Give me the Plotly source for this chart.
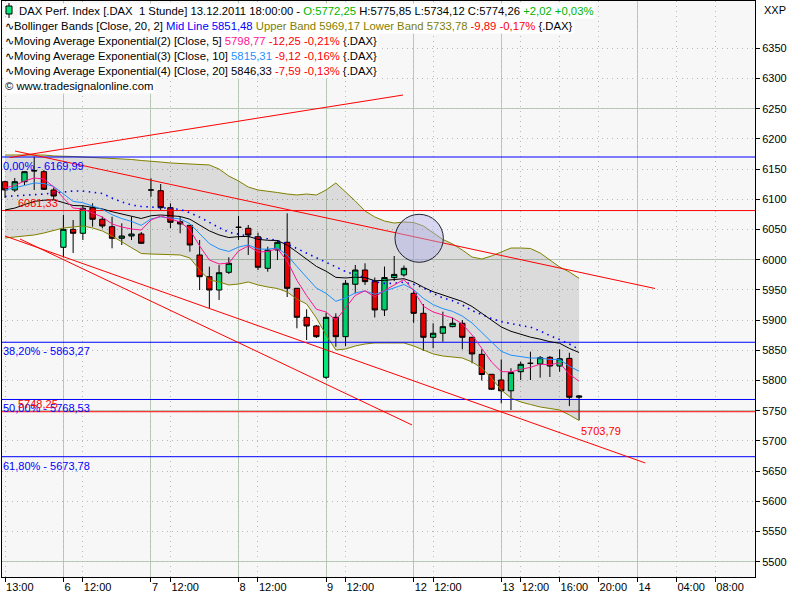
import plotly.graph_objects as go

# ---------------- data ----------------
bar_index = list(range(60))
open_ = [6129.1, 6115.4, 6129.1, 6147.5, 6145.7, 6115.4, 6020.5, 6050.3, 6043.7, 6086.1,
         6066.9, 6054.6, 6035.4, 6039.2, 6042.5, 6115.4, 6114.2, 6086.1, 6062.9, 6056.9,
         6007.8, 5971.8, 5949.8, 5979.1, 6053.6, 6052.0, 6038.0, 5985.7, 6016.0, 6028.8,
         5952.6, 5904.6, 5890.2, 5805.3, 5904.6, 5872.5, 5959.3, 5982.9, 5963.6, 5916.8,
         5970.4, 5974.8, 5944.3, 5911.2, 5871.5, 5878.2, 5889.1, 5894.7, 5871.5, 5843.3,
         5810.2, 5800.8, 5782.9, 5814.5, 5828.4, 5827.3, 5838.3, 5823.9, 5836.6, 5772.25]
high = [6130.8, 6135.2, 6146.8, 6170.5, 6148.5, 6119.2, 6074.0, 6065.7, 6090.5, 6093.3,
        6071.2, 6071.2, 6060.2, 6071.2, 6045.8, 6134.7, 6125.3, 6093.3, 6071.2, 6057.4,
        6032.6, 5988.4, 5991.2, 6003.9, 6072.3, 6057.4, 6044.7, 6021.5, 6032.6, 6076.8,
        5953.1, 5917.8, 5891.9, 5912.2, 5911.2, 5966.4, 5991.2, 5994.0, 5970.5, 5988.6,
        6006.1, 5990.4, 5951.1, 5926.6, 5894.7, 5913.9, 5904.1, 5900.1, 5872.0, 5851.7,
        5810.7, 5834.7, 5820.3, 5831.1, 5847.7, 5840.5, 5840.5, 5851.7, 5845.9, 5775.85]
low = [6102.1, 6112.1, 6123.6, 6115.4, 6115.4, 6098.8, 6003.9, 6011.1, 6032.6, 6054.6,
       6052.0, 6018.8, 6024.3, 6032.6, 6025.9, 6104.3, 6082.3, 6052.0, 6043.7, 6013.2,
       5949.8, 5919.5, 5933.2, 5976.3, 6032.6, 6007.8, 5982.9, 5980.1, 5999.5, 5938.2,
       5886.4, 5867.0, 5870.3, 5802.5, 5855.9, 5857.1, 5944.3, 5958.1, 5904.3, 5906.8,
       5964.7, 5971.8, 5895.6, 5849.3, 5853.4, 5864.2, 5888.1, 5851.7, 5828.4, 5800.0,
       5784.2, 5762.2, 5751.1, 5800.8, 5800.8, 5804.7, 5805.7, 5814.5, 5757.6, 5734.12]
close = [6115.4, 6129.1, 6145.7, 6147.0, 6116.5, 6105.4, 6050.3, 6043.7, 6085.1, 6066.9,
         6055.8, 6035.4, 6039.2, 6042.5, 6027.1, 6115.4, 6086.1, 6061.9, 6059.1, 6024.3,
         5971.8, 5949.8, 5978.4, 5994.0, 6053.6, 6040.9, 5987.4, 6016.0, 6028.8, 5952.6,
         5904.6, 5890.2, 5872.5, 5904.6, 5872.5, 5960.9, 5982.9, 5963.6, 5916.8, 5970.4,
         5975.6, 5985.7, 5911.2, 5871.5, 5878.2, 5889.1, 5894.7, 5871.5, 5843.9, 5809.9,
         5785.4, 5782.9, 5813.2, 5826.8, 5828.4, 5837.7, 5823.9, 5836.0, 5772.24, 5774.26]

ema5 = [6118.7, 6122.8, 6130.3, 6135.2, 6133.6, 6120.3, 6102.1, 6085.6, 6083.9, 6077.3,
        6070.7, 6059.1, 6054.1, 6050.8, 6049.1, 6065.7, 6072.3, 6067.4, 6062.4, 6049.6,
        6022.7, 5999.5, 5992.9, 5994.5, 6014.4, 6022.7, 6012.7, 6013.6, 6018.2, 5997.8,
        5965.7, 5940.5, 5917.9, 5913.4, 5899.8, 5920.2, 5941.0, 5948.5, 5938.1, 5949.0,
        5957.9, 5967.2, 5948.5, 5922.8, 5913.4, 5908.4, 5903.5, 5893.5, 5875.3, 5853.1,
        5830.6, 5814.7, 5814.2, 5818.4, 5821.7, 5827.0, 5826.0, 5829.3, 5810.2, 5798.77]
ema10 = [6115.4, 6118.7, 6122.8, 6127.0, 6126.1, 6121.2, 6108.3, 6096.5, 6094.3, 6089.4,
         6083.3, 6074.5, 6068.0, 6063.4, 6056.8, 6067.4, 6070.8, 6069.2, 6067.4, 6059.6,
         6043.7, 6026.6, 6017.9, 6013.6, 6020.8, 6024.5, 6017.7, 6017.4, 6019.5, 6007.4,
         5988.7, 5970.8, 5953.0, 5944.2, 5931.1, 5936.6, 5945.0, 5948.3, 5942.7, 5947.8,
         5953.0, 5958.9, 5950.3, 5935.9, 5925.5, 5918.9, 5914.4, 5906.6, 5895.2, 5879.6,
         5862.6, 5848.2, 5841.9, 5839.1, 5837.1, 5837.2, 5834.7, 5834.9, 5823.5, 5815.31]
ema20 = [6082.3, 6085.4, 6091.2, 6096.5, 6098.5, 6099.1, 6094.5, 6089.7, 6089.2, 6087.1,
         6084.1, 6079.4, 6075.6, 6072.5, 6068.2, 6072.7, 6074.0, 6072.8, 6071.5, 6067.0,
         6057.9, 6047.7, 6041.0, 6036.6, 6038.2, 6038.6, 6033.7, 6032.1, 6031.8, 6024.1,
         6012.7, 6001.1, 5988.9, 5980.9, 5970.7, 5969.7, 5971.0, 5970.3, 5965.2, 5965.7,
         5966.7, 5968.5, 5963.1, 5954.3, 5947.0, 5941.5, 5937.1, 5930.8, 5922.5, 5911.7,
         5899.6, 5888.6, 5881.4, 5876.3, 5871.7, 5868.4, 5864.2, 5861.6, 5853.1, 5846.33]
bb_mid = [6104.6, 6105.4, 6106.3, 6107.1, 6108.7, 6110.4, 6112.1, 6113.7, 6113.7, 6112.1,
          6109.6, 6102.1, 6095.5, 6090.5, 6088.1, 6087.2, 6086.4, 6085.1, 6083.1, 6077.6,
          6070.5, 6061.4, 6053.1, 6045.5, 6042.4, 6039.0, 6035.9, 6034.6, 6031.8, 6026.0,
          6018.5, 6011.2, 6002.8, 5996.0, 5988.2, 5980.4, 5975.3, 5970.5, 5963.4, 5960.7,
          5960.9, 5962.7, 5959.2, 5953.1, 5944.3, 5936.7, 5932.1, 5925.0, 5915.7, 5908.6,
          5902.6, 5897.2, 5894.3, 5890.4, 5888.2, 5882.1, 5874.2, 5867.7, 5860.4, 5851.48]
bb_upper = [6173.3, 6173.3, 6173.3, 6173.3, 6173.3, 6171.7, 6171.7, 6170.8, 6170.0, 6169.2,
            6169.2, 6168.3, 6167.5, 6165.9, 6164.2, 6163.4, 6161.7, 6160.1, 6159.2, 6158.4,
            6158.4, 6156.8, 6150.1, 6138.5, 6130.3, 6120.3, 6115.4, 6113.7, 6111.2, 6108.7,
            6107.1, 6108.7, 6107.1, 6115.4, 6127.0, 6112.1, 6097.2, 6080.6, 6070.7, 6064.0,
            6060.7, 6062.4, 6061.4, 6055.8, 6044.8, 6033.4, 6026.0, 6016.0, 6004.4, 6001.1,
            6006.1, 6012.7, 6019.3, 6019.3, 6018.5, 6011.1, 5999.5, 5987.9, 5979.6, 5969.17]
bb_lower = [6035.9, 6037.6, 6039.2, 6040.9, 6044.2, 6048.3, 6052.5, 6054.1, 6055.8, 6052.5,
            6047.5, 6039.2, 6029.3, 6019.3, 6010.2, 6009.4, 6008.6, 6007.8, 6007.8, 6002.8,
            5982.9, 5966.4, 5963.1, 5958.1, 5959.7, 5963.1, 5958.1, 5954.8, 5952.3, 5946.5,
            5934.9, 5926.6, 5903.5, 5875.3, 5850.5, 5852.1, 5857.1, 5860.4, 5862.1, 5862.1,
            5862.1, 5862.1, 5857.1, 5850.5, 5843.9, 5840.5, 5838.9, 5837.2, 5830.6, 5820.7,
            5804.1, 5784.2, 5771.0, 5764.4, 5760.2, 5756.1, 5753.6, 5751.1, 5742.9, 5733.78]

fib_levels = [6169.99, 5863.27, 5768.53, 5673.78]
fib_labels = ["0,00% - 6169,99", "38,20% - 5863,27", "50,00% - 5768,53", "61,80% - 5673,78"]
red_levels = [6081.33, 5748.25]
red_labels = ["6081,33", "5748,25"]

trend_lines = {
    "upper_short": ([0.51, 40.9], [6169.2, 6272.6]),
    "channel_top": ([1.03, 66.8], [6179.9, 5952.3]),
    "channel_low": ([0.0, 65.8], [6039.2, 5663.4]),
    "steep_low": ([1.54, 41.83], [6034.2, 5726.3]),
}
trend_label = "5703,79"
trend_label_value = 5703.79
trend_label_bar = 59

circle_x = [40.08, 45.05]
circle_y = [5995.7, 6075.1]

tick_index = [0, 6, 8, 15, 17, 24, 26, 33, 35, 42, 44, 51, 53, 57, 61, 65, 69, 73]
tick_text = ["13:00", "6", "12:00", "7", "12:00", "8", "12:00", "9", "12:00", "12",
             "12:00", "13", "12:00", "16:00", "20:00", "14", "04:00", "08:00"]
day_index = [6, 15, 24, 33, 42, 51, 65]
price_ticks = list(range(5500, 6351, 50))

x_range = [-0.31, 77.08]
y_range = [5474.6, 6428.3]

# ---------------- styling ----------------
FONT = "Liberation Sans"
GREEN = "#00E87A"
RED = "#FF0000"
OLIVE = "#808000"
PINK = "#FF1493"
DBLUE = "#1E90FF"
BLUE = "#0000FF"

W, H = 800, 600
ML, MR, MT, MB = 2, 45, 1, 23
PW, PH = W - ML - MR, H - MT - MB


def px(xp):
    return (xp - ML) / PW


def py(yp):
    return 1 - (yp - MT) / PH


fig = go.Figure()

# Bollinger band fill
fig.add_trace(go.Scatter(x=bar_index, y=bb_upper, mode="lines",
                         line=dict(color=OLIVE, width=1), hoverinfo="skip"))
fig.add_trace(go.Scatter(x=bar_index, y=bb_lower, mode="lines", fill="tonexty",
                         fillcolor="rgba(0,0,0,0.11)",
                         line=dict(color=OLIVE, width=1), hoverinfo="skip"))

# horizontal level lines
for v in fib_levels:
    fig.add_trace(go.Scatter(x=x_range, y=[v, v], mode="lines",
                             line=dict(color=BLUE, width=1), hoverinfo="skip"))
for v in red_levels:
    fig.add_trace(go.Scatter(x=x_range, y=[v, v], mode="lines",
                             line=dict(color=RED, width=1), hoverinfo="skip"))

# trend lines
for name, (tx, ty) in trend_lines.items():
    fig.add_trace(go.Scatter(x=tx, y=ty, mode="lines",
                             line=dict(color=RED, width=1), hoverinfo="skip"))

# indicators
fig.add_trace(go.Scatter(x=bar_index, y=bb_mid, mode="lines",
                         line=dict(color=BLUE, width=1.6, dash="1.5px,4.5px")))
fig.add_trace(go.Scatter(x=bar_index, y=ema20, mode="lines",
                         line=dict(color="black", width=1)))
fig.add_trace(go.Scatter(x=bar_index, y=ema10, mode="lines",
                         line=dict(color=DBLUE, width=1)))
fig.add_trace(go.Scatter(x=bar_index, y=ema5, mode="lines",
                         line=dict(color=PINK, width=1)))

# candles
fig.add_trace(go.Candlestick(
    x=bar_index, open=open_, high=high, low=low, close=close,
    increasing=dict(fillcolor=GREEN, line=dict(color="black", width=1)),
    decreasing=dict(fillcolor=RED, line=dict(color="black", width=1)),
    whiskerwidth=0, hoverinfo="skip"))

# circle drawing
fig.add_shape(type="circle", xref="x", yref="y",
              x0=circle_x[0], x1=circle_x[1], y0=circle_y[0], y1=circle_y[1],
              fillcolor="rgba(175,175,235,0.45)", line=dict(color="#202030", width=1),
              layer="above")

annotations = []
for v, t in zip(fib_levels, fib_labels):
    annotations.append(dict(xref="paper", yref="y", x=px(1), y=v, text=t,
                            xanchor="left", yanchor="top", showarrow=False, yshift=-1,
                            font=dict(family=FONT, size=11, color=BLUE)))
for v, t in zip(red_levels, red_labels):
    annotations.append(dict(xref="paper", yref="y", x=px(16), y=v, text=t,
                            xanchor="left", yanchor="bottom", showarrow=False, yshift=0,
                            font=dict(family=FONT, size=11, color=RED)))
annotations.append(dict(xref="x", yref="y", x=trend_label_bar, y=trend_label_value,
                        text=trend_label, xanchor="left", yanchor="bottom", showarrow=False,
                        font=dict(family=FONT, size=11, color=RED)))

WAVE = "\u223f"
legend_lines = [
    ("DAX Perf. Index [.DAX\u00a0\u00a01 Stunde] 13.12.2011 18:00:00 - "
     "<span style='color:#00B400'>O:5772,25</span> H:5775,85 L:5734,12 C:5774,26 "
     "<span style='color:#00B400'>+2,02 +0,03%</span>", 17),
    (WAVE + "Bollinger Bands [Close, 20, 2] <span style='color:#0000FF'>Mid Line 5851,48</span> "
     "<span style='color:#808000'>Upper Band 5969,17 Lower Band 5733,78</span> "
     "<span style='color:#FF0000'>-9,89 -0,17%</span> {.DAX}", 3),
    (WAVE + "Moving Average Exponential(2) [Close, 5] <span style='color:#FF1493'>5798,77</span> "
     "<span style='color:#FF0000'>-12,25 -0,21%</span> {.DAX}", 3),
    (WAVE + "Moving Average Exponential(3) [Close, 10] <span style='color:#1E90FF'>5815,31</span> "
     "<span style='color:#FF0000'>-9,12 -0,16%</span> {.DAX}", 3),
    (WAVE + "Moving Average Exponential(4) [Close, 20] 5846,33 "
     "<span style='color:#FF0000'>-7,59 -0,13%</span> {.DAX}", 3),
    ("\u00a9 www.tradesignalonline.com", 3),
]
for k, (t, xstart) in enumerate(legend_lines):
    annotations.append(dict(xref="paper", yref="paper", x=px(xstart), y=py(10.5 + 15.1 * k),
                            text=t, xanchor="left", yanchor="middle", showarrow=False,
                            bgcolor="white", borderpad=1,
                            font=dict(family=FONT, size=11.3, color="black")))

annotations.append(dict(xref="paper", yref="paper", x=px(762), y=py(10), text="XXP",
                        xanchor="left", yanchor="middle", showarrow=False,
                        font=dict(family=FONT, size=11, color="black")))

# candle icon in the title line
fig.add_shape(type="line", xref="paper", yref="paper", x0=px(9), x1=px(9), y0=py(3), y1=py(18),
              line=dict(color="black", width=1), layer="above")
fig.add_shape(type="rect", xref="paper", yref="paper", x0=px(6), x1=px(12), y0=py(6), y1=py(14),
              fillcolor=GREEN, line=dict(color="black", width=1), layer="above")

fig.update_layout(
    width=W, height=H,
    margin=dict(l=ML, r=MR, t=MT, b=MB, autoexpand=False),
    paper_bgcolor="white", plot_bgcolor="#F7F7F7",
    showlegend=False,
    boxgap=0.22,
    annotations=annotations,
    font=dict(family=FONT, size=11, color="black"),
    xaxis=dict(range=x_range, rangeslider=dict(visible=False), automargin=False,
               tickmode="array", tickvals=tick_index, ticktext=tick_text, tickangle=0,
               ticks="outside", ticklen=4, tickcolor="black",
               ticklabelposition="outside right",
               showline=True, linecolor="black", linewidth=1, mirror=True,
               showgrid=True, gridcolor="#B8B8B8", griddash="1px,4px", gridwidth=1,
               minor=dict(tickmode="array", tickvals=day_index, showgrid=True,
                          gridcolor="#B6CCB6", griddash="solid", gridwidth=1),
               zeroline=False, tickfont=dict(family=FONT, size=11)),
    yaxis=dict(range=y_range, side="right", automargin=False,
               tickmode="array", tickvals=price_ticks,
               tickformat="d", ticks="outside", ticklen=4, tickcolor="black",
               showline=True, linecolor="black", linewidth=1, mirror=True,
               showgrid=True, gridcolor="#B8B8B8", griddash="1px,4px", gridwidth=1,
               minor=dict(tick0=5500, dtick=250, showgrid=True,
                          gridcolor="#B6CCB6", griddash="solid", gridwidth=1),
               zeroline=False, tickfont=dict(family=FONT, size=11)),
)

fig.write_html("out.html", config={"displayModeBar": False},
               post_script="document.body.style.margin='0px';")
